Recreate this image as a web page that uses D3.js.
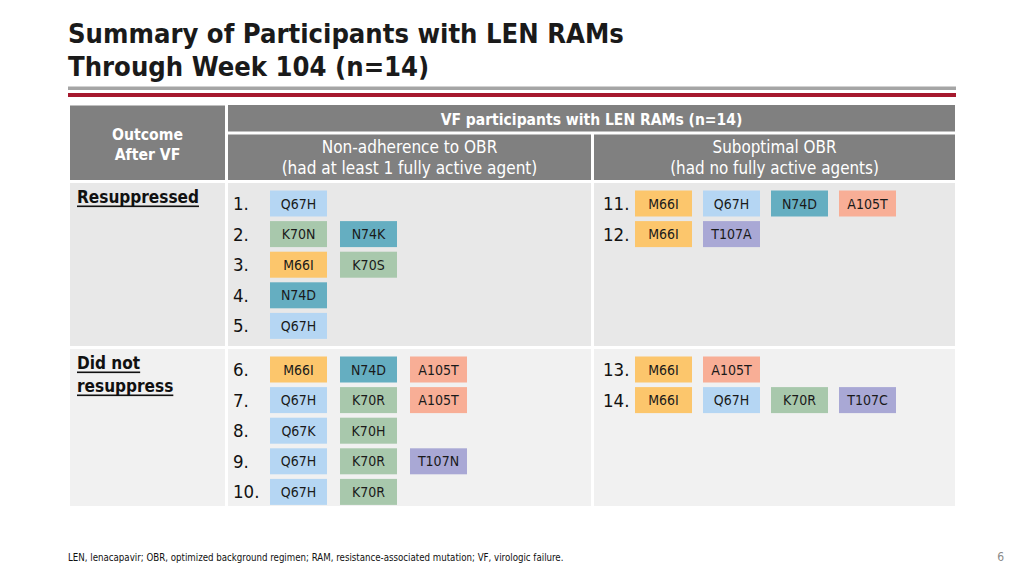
<!DOCTYPE html>
<html><head><meta charset="utf-8">
<script src="https://cdn.jsdelivr.net/npm/d3@7"></script>
<style>
html,body{margin:0;padding:0;background:#fff;}
svg{display:block;font-family:"DejaVu Sans Condensed","DejaVu Sans",sans-serif;font-stretch:condensed;}
</style></head>
<body><svg id="c" width="1024" height="576"></svg>
<script>
// ---- data ----
const titleLines = ["Summary of Participants with LEN RAMs", "Through Week 104 (n=14)"];
const headerTop = "VF participants with LEN RAMs (n=14)";
const outcomeHeader = ["Outcome", "After VF"];
const groups = ["Non-adherence", "Suboptimal"];
const groupLabels = [["Non-adherence to OBR", "(had at least 1 fully active agent)"], ["Suboptimal OBR", "(had no fully active agents)"]];
const outcomes = ["Resuppressed", "Did not resuppress"];
const outcomeLabels = [["Resuppressed"], ["Did not", "resuppress"]];
const participants = [1,2,3,4,5,6,7,8,9,10,11,12,13,14];
const participantOutcome = ["Resuppressed","Resuppressed","Resuppressed","Resuppressed","Resuppressed",
  "Did not resuppress","Did not resuppress","Did not resuppress","Did not resuppress","Did not resuppress",
  "Resuppressed","Resuppressed","Did not resuppress","Did not resuppress"];
const participantGroup = ["Non-adherence","Non-adherence","Non-adherence","Non-adherence","Non-adherence",
  "Non-adherence","Non-adherence","Non-adherence","Non-adherence","Non-adherence",
  "Suboptimal","Suboptimal","Suboptimal","Suboptimal"];
const participantRAMs = [
  ["Q67H"], ["K70N","N74K"], ["M66I","K70S"], ["N74D"], ["Q67H"],
  ["M66I","N74D","A105T"], ["Q67H","K70R","A105T"], ["Q67K","K70H"], ["Q67H","K70R","T107N"], ["Q67H","K70R"],
  ["M66I","Q67H","N74D","A105T"], ["M66I","T107A"], ["M66I","A105T"], ["M66I","Q67H","K70R","T107C"]
];
const positions = ["M66","Q67","K70","N74","A105","T107"];
const positionColors = ["#fcc66c","#b5d6f3","#a8c8ac","#65aec1","#f8ae96","#a9a8d5"];
const footnote = "LEN, lenacapavir; OBR, optimized background regimen; RAM, resistance-associated mutation; VF, virologic failure.";
const pageNumber = "6";

// ---- drawing ----
const svg = d3.select("#c");
const colorOf = d3.scaleOrdinal().domain(positions).range(positionColors);
const posOf = m => m.replace(/^([A-Z]\d+).*$/, "$1");

function fit(el, w){
  const l = el.getComputedTextLength();
  const fs = parseFloat(el.getAttribute("font-size"));
  const n = fs * w / l;
  el.setAttribute("font-size", n.toFixed(2));
  return n;
}

// Title
svg.selectAll("text.title").data(titleLines).join("text")
  .attr("class","title")
  .attr("x", 68).attr("y", (d,i) => 43 + i*33)
  .attr("font-size", 27).attr("font-weight", 700).attr("fill", "#1a1a1a")
  .text(d => d)
  .each(function(d,i){ if(i===0){ fit(this, 556); } });
const t1 = svg.select("text.title").attr("font-size");
svg.selectAll("text.title").attr("font-size", t1);

// Rules
svg.append("rect").attr("x",68).attr("y",86.5).attr("width",888).attr("height",3.5).attr("fill","#a5a5a5");
svg.append("rect").attr("x",68).attr("y",93).attr("width",888).attr("height",4).attr("fill","#a6192e");

// Table geometry
const colX = d3.scaleOrdinal().domain(["outcome", ...groups]).range([70, 228, 594]);
const colW = d3.scaleOrdinal().domain(["outcome", ...groups]).range([155, 363, 361]);
const rowY = d3.scaleOrdinal().domain(outcomes).range([183, 349]);
const rowH = d3.scaleOrdinal().domain(outcomes).range([163, 157]);
const rowFill = d3.scaleOrdinal().domain(outcomes).range(["#e8e8e8", "#f1f1f1"]);
const headFill = "#808080";

// header cells
svg.append("rect").attr("x",70).attr("y",105.5).attr("width",155).attr("height",74.5).attr("fill",headFill);
svg.append("rect").attr("x",228).attr("y",105).attr("width",727).attr("height",26.5).attr("fill",headFill);
svg.selectAll("rect.gh").data(groups).join("rect").attr("class","gh")
  .attr("x", d => colX(d)).attr("y",134.5).attr("width", d => colW(d)).attr("height",45.5).attr("fill",headFill);

svg.append("text").attr("x", 591.5).attr("y", 125).attr("text-anchor","middle")
  .attr("font-size",15).attr("font-weight",700).attr("fill","#fff").text(headerTop)
  .each(function(){ fit(this, 302); });
let ohSize = 15;
svg.selectAll("text.oh").data(outcomeHeader).join("text").attr("class","oh")
  .attr("x", 147.5).attr("y",(d,i)=>139.5 + i*20).attr("text-anchor","middle")
  .attr("font-size",15).attr("font-weight",700).attr("fill","#fff").text(d=>d)
  .each(function(d,i){ if(i===0) ohSize = fit(this, 71); else this.setAttribute("font-size", ohSize.toFixed(2)); });
groups.forEach((g,gi) => {
  const sel = svg.selectAll("text.gl"+gi).data(groupLabels[gi]).join("text").attr("class","gl"+gi)
    .attr("x", colX(g) + colW(g)/2).attr("y",(d,i)=>153 + i*21).attr("text-anchor","middle")
    .attr("font-size",15).attr("fill","#fff").text(d=>d);
  const s2 = fit(sel.nodes()[1], gi===0?256:209);
  sel.attr("font-size", s2.toFixed(2));
});

// body cells
outcomes.forEach(o => {
  ["outcome", ...groups].forEach(c => {
    svg.append("rect").attr("x", colX(c)).attr("y", rowY(o)).attr("width", colW(c)).attr("height", rowH(o)).attr("fill", rowFill(o));
  });
});

// outcome labels (underlined)
let olSize = 17;
outcomes.forEach((o, oi) => {
  const g = svg.append("g");
  outcomeLabels[oi].forEach((line, li) => {
    const t = g.append("text").attr("x", 77).attr("y", rowY(o) + 20 + li*23)
      .attr("font-size", 17).attr("font-weight", 700).attr("fill", "#111").text(line);
    if (oi===0 && li===0) olSize = fit(t.node(), 122);
    else t.attr("font-size", olSize.toFixed(2));
    const w = t.node().getComputedTextLength();
    g.append("rect").attr("x", 77).attr("y", rowY(o) + 22.5 + li*23).attr("width", w).attr("height", 1.6).attr("fill", "#111");
  });
});

// rows
const rowStep = 30.6;
const slotX = d3.scaleOrdinal().domain(groups).range([270, 635]);
const slotStep = d3.scaleOrdinal().domain(groups).range([70, 68]);
const numX = d3.scaleOrdinal().domain(groups).range([233, 603]);
const badgeW = 57, badgeH = 26;

const recs = participants.map((p, i) => ({p, o: participantOutcome[i], g: participantGroup[i], rams: participantRAMs[i]}));
const idxIn = {};
recs.forEach(r => { const k = r.o + "|" + r.g; idxIn[k] = (idxIn[k] || 0); r.k = idxIn[k]++; r.cy = rowY(r.o) + 20.5 + r.k * rowStep; });

const rowG = svg.selectAll("g.prow").data(recs).join("g").attr("class","prow");
rowG.append("text").attr("x", d => numX(d.g)).attr("y", d => d.cy + 6.5)
  .attr("font-size", 18.5).attr("fill", "#111").text(d => d.p + ".");
rowG.selectAll("g.badge").data(d => d.rams.map((m, j) => ({m, j, d}))).join("g").attr("class","badge")
  .each(function(b){
    const x = slotX(b.d.g) + b.j * slotStep(b.d.g);
    const y = b.d.cy - badgeH/2;
    const s = d3.select(this);
    s.append("rect").attr("x", x).attr("y", y).attr("width", badgeW).attr("height", badgeH).attr("fill", colorOf(posOf(b.m)));
    s.append("text").attr("x", x + badgeW/2).attr("y", y + badgeH/2 + 5).attr("text-anchor","middle")
      .attr("font-size", 14).attr("fill", "#1a1a1a").text(b.m);
  });

// footnote & page number
svg.append("text").attr("x", 68).attr("y", 561).attr("font-size", 9).attr("fill", "#111").text(footnote)
  .each(function(){ fit(this, 496); });
svg.append("text").attr("x", 1004).attr("y", 561).attr("text-anchor","end").attr("font-size", 12).attr("fill", "#8a8a8a").text(pageNumber);
</script></body></html>
